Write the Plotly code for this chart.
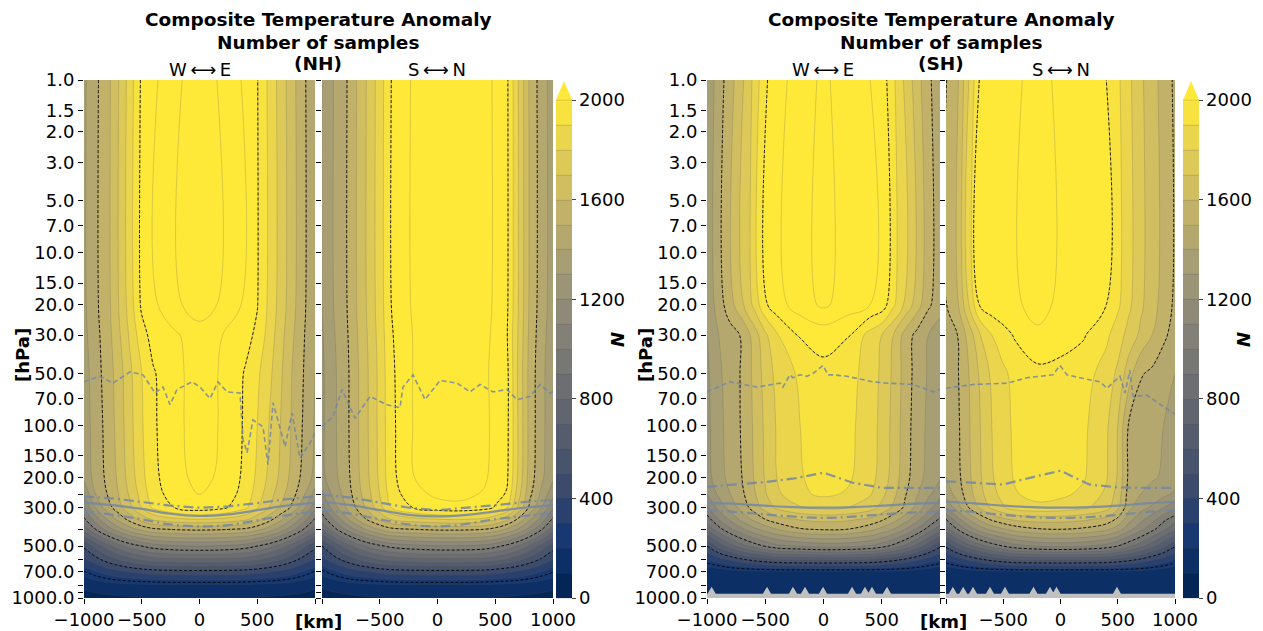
import plotly.graph_objects as go

# ---------------- data ----------------
X_KM = [-1000, -900, -800, -700, -600, -500, -400, -200, 0, 200, 400, 500, 600, 700, 800, 900, 1000]
P_HPA = [1, 20, 30, 50, 100, 200, 250, 300, 350, 400, 500, 600, 700, 850, 1000]

NH_WE = [
    [1380, 1480, 1560, 1700, 1850, 2020, 2080, 2180, 2260, 2180, 2080, 2005, 1880, 1760, 1640, 1520, 1420],
    [1380, 1480, 1560, 1700, 1850, 2020, 2080, 2180, 2260, 2180, 2080, 2005, 1880, 1760, 1640, 1520, 1420],
    [1370, 1470, 1550, 1680, 1820, 1960, 2040, 2090, 2150, 2100, 2030, 1980, 1860, 1740, 1620, 1510, 1410],
    [1350, 1460, 1540, 1650, 1780, 1900, 1990, 2080, 2140, 2090, 1990, 1920, 1830, 1720, 1600, 1500, 1400],
    [1340, 1450, 1530, 1640, 1770, 1890, 1985, 2080, 2140, 2090, 1985, 1900, 1800, 1700, 1590, 1490, 1390],
    [1320, 1440, 1520, 1620, 1750, 1870, 1975, 2070, 2130, 2080, 1975, 1880, 1780, 1680, 1570, 1470, 1370],
    [1220, 1400, 1500, 1600, 1720, 1840, 1960, 2050, 2105, 2060, 1960, 1850, 1750, 1640, 1540, 1420, 1260],
    [1100, 1300, 1450, 1560, 1680, 1800, 1920, 2010, 2060, 2020, 1920, 1810, 1700, 1590, 1480, 1330, 1120],
    [980, 1150, 1300, 1430, 1540, 1640, 1720, 1780, 1800, 1780, 1720, 1640, 1540, 1430, 1300, 1150, 990],
    [840, 1000, 1140, 1260, 1360, 1430, 1480, 1510, 1520, 1510, 1480, 1430, 1360, 1260, 1140, 1000, 850],
    [520, 640, 760, 860, 940, 1000, 1050, 1090, 1100, 1090, 1050, 1000, 940, 860, 760, 640, 530],
    [380, 460, 540, 610, 670, 720, 750, 775, 780, 775, 750, 720, 670, 610, 540, 460, 385],
    [250, 300, 350, 390, 420, 445, 465, 478, 480, 478, 465, 445, 420, 390, 350, 300, 250],
    [120, 140, 150, 160, 165, 170, 175, 180, 180, 180, 175, 170, 165, 160, 150, 140, 120],
    [60, 70, 80, 85, 90, 95, 100, 100, 100, 100, 100, 95, 90, 85, 80, 70, 60],
]

NH_SN = [
    [1300, 1400, 1480, 1600, 1720, 1850, 2000, 2120, 2180, 2190, 2150, 2080, 2020, 1800, 1580, 1450, 1350],
    [1300, 1400, 1480, 1600, 1720, 1850, 2000, 2120, 2180, 2190, 2150, 2080, 2020, 1800, 1580, 1450, 1350],
    [1290, 1390, 1470, 1590, 1710, 1840, 1990, 2110, 2170, 2180, 2140, 2070, 2010, 1790, 1570, 1440, 1340],
    [1280, 1380, 1460, 1580, 1700, 1830, 1980, 2110, 2160, 2170, 2130, 2060, 2030, 1780, 1560, 1430, 1330],
    [1280, 1380, 1460, 1580, 1700, 1830, 1975, 2110, 2160, 2170, 2130, 2070, 2030, 1790, 1560, 1430, 1330],
    [1270, 1370, 1450, 1570, 1690, 1820, 1970, 2100, 2150, 2160, 2120, 2060, 2020, 1780, 1550, 1420, 1320],
    [1180, 1330, 1430, 1550, 1670, 1800, 1950, 2070, 2120, 2130, 2090, 2040, 1990, 1740, 1520, 1380, 1230],
    [1060, 1250, 1390, 1510, 1630, 1760, 1900, 2010, 2060, 2070, 2040, 1990, 1900, 1680, 1470, 1300, 1110],
    [940, 1100, 1260, 1400, 1520, 1620, 1710, 1770, 1800, 1810, 1780, 1720, 1620, 1480, 1320, 1160, 980],
    [800, 960, 1100, 1220, 1330, 1410, 1470, 1500, 1520, 1520, 1500, 1460, 1390, 1290, 1160, 1010, 850],
    [500, 620, 740, 840, 920, 980, 1030, 1070, 1090, 1090, 1070, 1030, 970, 890, 790, 670, 550],
    [370, 450, 530, 600, 660, 710, 740, 765, 775, 775, 760, 735, 690, 630, 560, 480, 400],
    [240, 290, 340, 380, 410, 440, 460, 475, 480, 478, 470, 450, 425, 395, 355, 305, 260],
    [115, 135, 150, 160, 165, 170, 175, 180, 180, 180, 175, 170, 165, 160, 150, 140, 125],
    [55, 65, 75, 85, 90, 95, 100, 100, 100, 100, 100, 95, 90, 85, 80, 70, 60],
]

SH_WE = [
    [1320, 1450, 1560, 1680, 1820, 1985, 2060, 2150, 2220, 2150, 2100, 2060, 1920, 1780, 1650, 1520, 1440],
    [1320, 1450, 1560, 1680, 1820, 1985, 2060, 2150, 2220, 2150, 2100, 2060, 1920, 1780, 1650, 1520, 1440],
    [1300, 1400, 1460, 1510, 1640, 1780, 1890, 2010, 2040, 2010, 1860, 1800, 1700, 1560, 1470, 1400, 1350],
    [1280, 1380, 1450, 1510, 1620, 1740, 1830, 1920, 1970, 1940, 1860, 1780, 1680, 1560, 1460, 1390, 1330],
    [1270, 1370, 1440, 1510, 1610, 1720, 1810, 1900, 1960, 1930, 1850, 1770, 1670, 1550, 1450, 1380, 1320],
    [1260, 1360, 1430, 1500, 1600, 1710, 1800, 1890, 1950, 1920, 1840, 1760, 1660, 1540, 1440, 1370, 1310],
    [1200, 1320, 1400, 1480, 1580, 1690, 1780, 1880, 1920, 1890, 1810, 1730, 1630, 1510, 1410, 1320, 1240],
    [1080, 1230, 1340, 1440, 1540, 1640, 1720, 1790, 1820, 1800, 1740, 1670, 1580, 1480, 1370, 1240, 1120],
    [950, 1100, 1220, 1330, 1420, 1500, 1560, 1610, 1630, 1620, 1580, 1520, 1440, 1350, 1240, 1110, 980],
    [820, 960, 1080, 1180, 1270, 1340, 1400, 1490, 1510, 1500, 1430, 1370, 1300, 1200, 1090, 960, 840],
    [500, 640, 760, 860, 940, 1010, 1070, 1110, 1140, 1130, 1090, 1040, 970, 880, 770, 640, 520],
    [300, 360, 420, 480, 530, 570, 600, 615, 620, 615, 600, 570, 530, 480, 420, 360, 310],
    [130, 150, 170, 180, 190, 195, 200, 200, 200, 200, 200, 195, 190, 180, 170, 150, 130],
    [120, 130, 140, 150, 150, 155, 160, 160, 160, 160, 160, 155, 150, 150, 140, 130, 120],
    [100, 100, 100, 100, 100, 100, 100, 100, 100, 100, 100, 100, 100, 100, 100, 100, 100],
]

SH_SN = [
    [1495, 1580, 1800, 2020, 2060, 2080, 2060, 2180, 2050, 2030, 2000, 1920, 1820, 1720, 1640, 1560, 1480],
    [1495, 1580, 1800, 2020, 2060, 2080, 2060, 2180, 2050, 2030, 2000, 1920, 1820, 1720, 1640, 1560, 1480],
    [1440, 1500, 1640, 1800, 1900, 1960, 2010, 2060, 2040, 2010, 1920, 1850, 1760, 1680, 1600, 1520, 1460],
    [1420, 1490, 1600, 1720, 1820, 1880, 1930, 1980, 1970, 1940, 1860, 1780, 1640, 1510, 1480, 1440, 1400],
    [1410, 1480, 1590, 1700, 1800, 1860, 1920, 1970, 1960, 1920, 1820, 1700, 1480, 1440, 1420, 1400, 1370],
    [1400, 1470, 1580, 1690, 1790, 1850, 1910, 1960, 1950, 1910, 1810, 1690, 1470, 1430, 1410, 1390, 1360],
    [1340, 1440, 1560, 1670, 1770, 1830, 1890, 1940, 1920, 1880, 1780, 1660, 1450, 1400, 1370, 1330, 1280],
    [1200, 1360, 1500, 1620, 1720, 1790, 1840, 1870, 1860, 1820, 1740, 1620, 1420, 1340, 1280, 1200, 1120],
    [1000, 1160, 1310, 1430, 1520, 1580, 1620, 1640, 1640, 1620, 1570, 1480, 1340, 1230, 1140, 1030, 940],
    [850, 1000, 1140, 1250, 1330, 1390, 1440, 1490, 1500, 1480, 1420, 1350, 1230, 1130, 1030, 920, 820],
    [520, 650, 770, 860, 940, 1000, 1060, 1110, 1130, 1110, 1060, 1000, 920, 840, 740, 630, 510],
    [300, 360, 420, 480, 530, 570, 600, 615, 620, 615, 600, 570, 530, 480, 420, 360, 300],
    [130, 150, 170, 180, 190, 195, 200, 200, 200, 200, 200, 195, 190, 180, 170, 150, 130],
    [120, 130, 140, 150, 150, 155, 160, 160, 160, 160, 160, 155, 150, 150, 140, 130, 120],
    [100, 100, 100, 100, 100, 100, 100, 100, 100, 100, 100, 100, 100, 100, 100, 100, 100],
]

# gray overlay lines (pressure in hPa along x in km)
NH_WE_CPT_X = [-1000, -861, -749, -602, -489, -385, -316, -255, -195, -65, 5, 91, 160, 238, 351, 377, 412, 463, 550, 593, 637, 741, 801, 870, 974, 1000]
NH_WE_CPT_P = [56, 52, 57, 49, 51, 65, 60, 76, 62, 56, 60, 70, 56, 64, 65, 121, 144, 93, 102, 169, 74, 133, 85, 155, 121, 110]
NH_SN_CPT_X = [-1000, -905, -827, -714, -584, -437, -325, -299, -212, -108, 22, 169, 281, 368, 481, 602, 688, 801, 888, 974, 1000]
NH_SN_CPT_P = [102, 89, 62, 91, 68, 76, 79, 60, 51, 71, 55, 57, 64, 58, 64, 62, 71, 68, 58, 65, 64]
SH_WE_CPT_X = [-1000, -803, -571, -373, -348, -288, -262, -202, -142, -90, -4, 39, 82, 202, 425, 545, 768, 940, 1000]
SH_WE_CPT_P = [64, 56, 60, 57, 60, 51, 53, 51, 52, 50, 45, 51, 51, 52, 56, 57, 58, 64, 62]
SH_SN_CPT_X = [-1000, -764, -467, -293, -179, -66, -5, 56, 170, 344, 406, 519, 563, 606, 633, 755, 983, 1000]
SH_SN_CPT_P = [61, 58, 57, 53, 52, 51, 45, 51, 53, 56, 61, 52, 65, 48, 68, 67, 85, 86]

TP_X = [-1000, -750, -500, -250, 0, 250, 500, 750, 1000]
NH_WE_TP1 = [258, 265, 278, 292, 300, 295, 282, 268, 258]
NH_WE_TP2 = [280, 290, 305, 325, 335, 328, 310, 292, 280]
NH_WE_TP3 = [315, 330, 350, 375, 385, 378, 355, 332, 315]
NH_SN_TP1 = [252, 262, 280, 300, 310, 300, 290, 278, 270]
NH_SN_TP2 = [277, 290, 310, 330, 337, 330, 315, 300, 290]
NH_SN_TP3 = [307, 325, 350, 375, 385, 372, 350, 335, 322]
SH_WE_TP1 = [227, 220, 213, 203, 188, 215, 230, 230, 230]
SH_WE_TP2 = [280, 285, 292, 298, 300, 298, 292, 285, 280]
SH_WE_TP3 = [310, 318, 328, 338, 344, 338, 328, 320, 317]
SH_SN_TP1 = [211, 215, 220, 200, 183, 220, 229, 230, 230]
SH_SN_TP2 = [277, 283, 292, 298, 300, 298, 292, 283, 277]
SH_SN_TP3 = [310, 318, 330, 340, 344, 340, 330, 318, 310]

# missing-data (below surface) region in SH panels
SH_WE_GAP_BUMPS = [-960, -485, -262, -159, -4, 245, 356, 416, 545]
SH_SN_GAP_BUMPS = [-940, -850, -764, -616, -485, -236, -92, -35, 493]
GAP_BASE_HPA = 945
GAP_PEAK_HPA = 860

Y_TICKS = [1, 1.5, 2, 3, 5, 7, 10, 15, 20, 30, 50, 70, 100, 150, 200, 250, 300, 400, 500, 600, 700, 850, 925, 1000]
Y_LABELS = ['1.0', '1.5', '2.0', '3.0', '5.0', '7.0', '10.0', '15.0', '20.0', '30.0', '50.0', '70.0',
            '100.0', '150.0', '200.0', '', '300.0', '', '500.0', '', '700.0', '', '', '1000.0']
X_TICKS = [-1000, -500, 0, 500, 1000]
CB_TICKS = [0, 400, 800, 1200, 1600, 2000]

# ---------------- figure ----------------
W, H = 1263, 631
def fx(px): return px / W
def fy(py): return 1 - py / H

FONT = 'DejaVu Sans'
TICK_SIZE = 18
LINE_GRAY = 'rgba(115,135,165,0.85)'
TOP_YELLOW = 'rgb(254,232,56)'

panels = [
    dict(z=NH_WE, xd=(84, 315), cpt=(NH_WE_CPT_X, NH_WE_CPT_P), tp=(NH_WE_TP1, NH_WE_TP2, NH_WE_TP3), gap=None,
         labels=['\u22121000', '\u2212500', '0', '500', ''], showy=True, cb=False),
    dict(z=NH_SN, xd=(322, 553), cpt=(NH_SN_CPT_X, NH_SN_CPT_P), tp=(NH_SN_TP1, NH_SN_TP2, NH_SN_TP3), gap=None,
         labels=['', '\u2212500', '0', '500', '1000'], showy=False, cb=556),
    dict(z=SH_WE, xd=(707, 940), cpt=(SH_WE_CPT_X, SH_WE_CPT_P), tp=(SH_WE_TP1, SH_WE_TP2, SH_WE_TP3), gap=SH_WE_GAP_BUMPS,
         labels=['\u22121000', '\u2212500', '0', '500', ''], showy=True, cb=False),
    dict(z=SH_SN, xd=(946, 1175), cpt=(SH_SN_CPT_X, SH_SN_CPT_P), tp=(SH_SN_TP1, SH_SN_TP2, SH_SN_TP3), gap=SH_SN_GAP_BUMPS,
         labels=['', '\u2212500', '0', '500', '1000'], showy=False, cb=1183),
]

fig = go.Figure()
layout = dict(width=W, height=H, margin=dict(l=0, r=0, t=0, b=0, autoexpand=False), paper_bgcolor='white',
              plot_bgcolor='white', showlegend=False, font=dict(family=FONT, color='black', size=17))

for i, pn in enumerate(panels):
    k = '' if i == 0 else str(i + 1)
    xa, ya = 'x' + k, 'y' + k
    cbar = None
    if pn['cb']:
        cbar = dict(x=fx(pn['cb']), xanchor='left', xpad=0, y=fy(598), yanchor='bottom', ypad=0,
                    len=(598 - 100) / H, lenmode='fraction', thickness=16, thicknessmode='pixels',
                    outlinewidth=0, tickmode='array', tickvals=CB_TICKS, ticks='outside', ticklen=4,
                    tickfont=dict(size=TICK_SIZE, family=FONT))
    fig.add_trace(go.Contour(
        x=X_KM, y=P_HPA, z=pn['z'], xaxis=xa, yaxis=ya, colorscale='Cividis',
        zmin=0, zmax=2000, autocontour=False, contours=dict(start=0, end=2000, size=100, coloring='fill'),
        line=dict(width=0.6, color='rgba(80,80,80,0.35)'), showscale=bool(pn['cb']), colorbar=cbar,
        hoverinfo='skip'))
    fig.add_trace(go.Contour(
        x=X_KM, y=P_HPA, z=pn['z'], xaxis=xa, yaxis=ya, showscale=False, autocontour=False,
        contours=dict(start=2100, end=2500, size=100, coloring='none'),
        line=dict(width=0.6, color='rgba(80,80,80,0.35)'), hoverinfo='skip'))
    for st, en, sz in [(500, 2000, 500), (250, 250, 250)]:
        fig.add_trace(go.Contour(
            x=X_KM, y=P_HPA, z=pn['z'], xaxis=xa, yaxis=ya, showscale=False, autocontour=False,
            contours=dict(start=st, end=en, size=sz, coloring='none'),
            line=dict(width=1, color='rgba(0,0,0,0.85)', dash='3px,2px'), hoverinfo='skip'))
    # gray overlay lines
    cx, cp = pn['cpt']
    fig.add_trace(go.Scatter(x=cx, y=cp, xaxis=xa, yaxis=ya, mode='lines', hoverinfo='skip',
                             line=dict(color=LINE_GRAY, width=1.6, dash='5px,3px')))
    t1, t2, t3 = pn['tp']
    fig.add_trace(go.Scatter(x=TP_X, y=t1, xaxis=xa, yaxis=ya, mode='lines', hoverinfo='skip',
                             line=dict(color=LINE_GRAY, width=2.2, dash='10px,4px,2px,4px')))
    fig.add_trace(go.Scatter(x=TP_X, y=t2, xaxis=xa, yaxis=ya, mode='lines', hoverinfo='skip',
                             line=dict(color=LINE_GRAY, width=2.2, shape='spline')))
    fig.add_trace(go.Scatter(x=TP_X, y=t3, xaxis=xa, yaxis=ya, mode='lines', hoverinfo='skip',
                             line=dict(color=LINE_GRAY, width=2.2, dash='10px,4px,2px,4px', shape='spline')))
    if pn['gap']:
        gx, gp = [-1000], [GAP_BASE_HPA]
        for c in sorted(pn['gap']):
            gx += [max(c - 35, -1000), c, min(c + 35, 1000)]
            gp += [GAP_BASE_HPA, GAP_PEAK_HPA, GAP_BASE_HPA]
        gx += [1000, 1000, -1000]
        gp += [GAP_BASE_HPA, 1000, 1000]
        fig.add_trace(go.Scatter(x=gx, y=gp, xaxis=xa, yaxis=ya, mode='lines', fill='toself',
                                 fillcolor='rgb(192,192,192)', line=dict(width=0), hoverinfo='skip'))

    layout['xaxis' + k] = dict(domain=[fx(pn['xd'][0]), fx(pn['xd'][1])], range=[-1000, 1000], anchor=ya,
                               tickmode='array', tickvals=X_TICKS, ticktext=pn['labels'], ticks='outside',
                               ticklen=5, tickcolor='black', showgrid=False, zeroline=False, automargin=False,
                               tickangle=0, tickfont=dict(size=TICK_SIZE, family=FONT))
    layout['yaxis' + k] = dict(domain=[fy(598), fy(80)], type='log', range=[3, 0], anchor=xa,
                               tickmode='array', tickvals=Y_TICKS, ticktext=Y_LABELS, ticks='outside',
                               ticklen=5, tickcolor='black', showgrid=False, zeroline=False, automargin=False,
                               showticklabels=pn['showy'], tickfont=dict(size=TICK_SIZE, family=FONT))

fig.update_layout(**layout)

# extend-max arrows above colorbars
for cbx in (556, 1183):
    fig.add_shape(type='path', xref='paper', yref='paper',
                  path=f'M {fx(cbx)} {fy(100)} L {fx(cbx + 16)} {fy(100)} L {fx(cbx + 8)} {fy(81)} Z',
                  fillcolor=TOP_YELLOW, line=dict(width=0))

def ann(text, px, py, size=17, angle=0, bold=False):
    if bold:
        text = '<b>' + text + '</b>'
    fig.add_annotation(text=text, x=fx(px), y=fy(py), xref='paper', yref='paper', showarrow=False,
                       xanchor='center', yanchor='middle', textangle=angle,
                       font=dict(size=size, family=FONT, color='black'))

for cx, hemi, c1, c2, hx, kmx, nx in [(318, '(NH)', 200, 437, 22, 318, 617), (941, '(SH)', 823, 1061, 645, 943, 1243)]:
    ann('Composite Temperature Anomaly', cx, 20, 18.5, bold=True)
    ann('Number of samples', cx, 42, 18.5, bold=True)
    ann(hemi, cx, 63, 18.5, bold=True)
    ann('W\u2009\u27f7\u2009E', c1, 70, 18)
    ann('S\u2009\u27f7\u2009N', c2, 70, 18)
    ann('[hPa]', hx, 355, 18, angle=-90, bold=True)
    ann('[km]', kmx, 621, 18, bold=True)
    ann('<i>N</i>', nx, 340, 18, angle=-90, bold=True)

fig.write_html('out.html')
